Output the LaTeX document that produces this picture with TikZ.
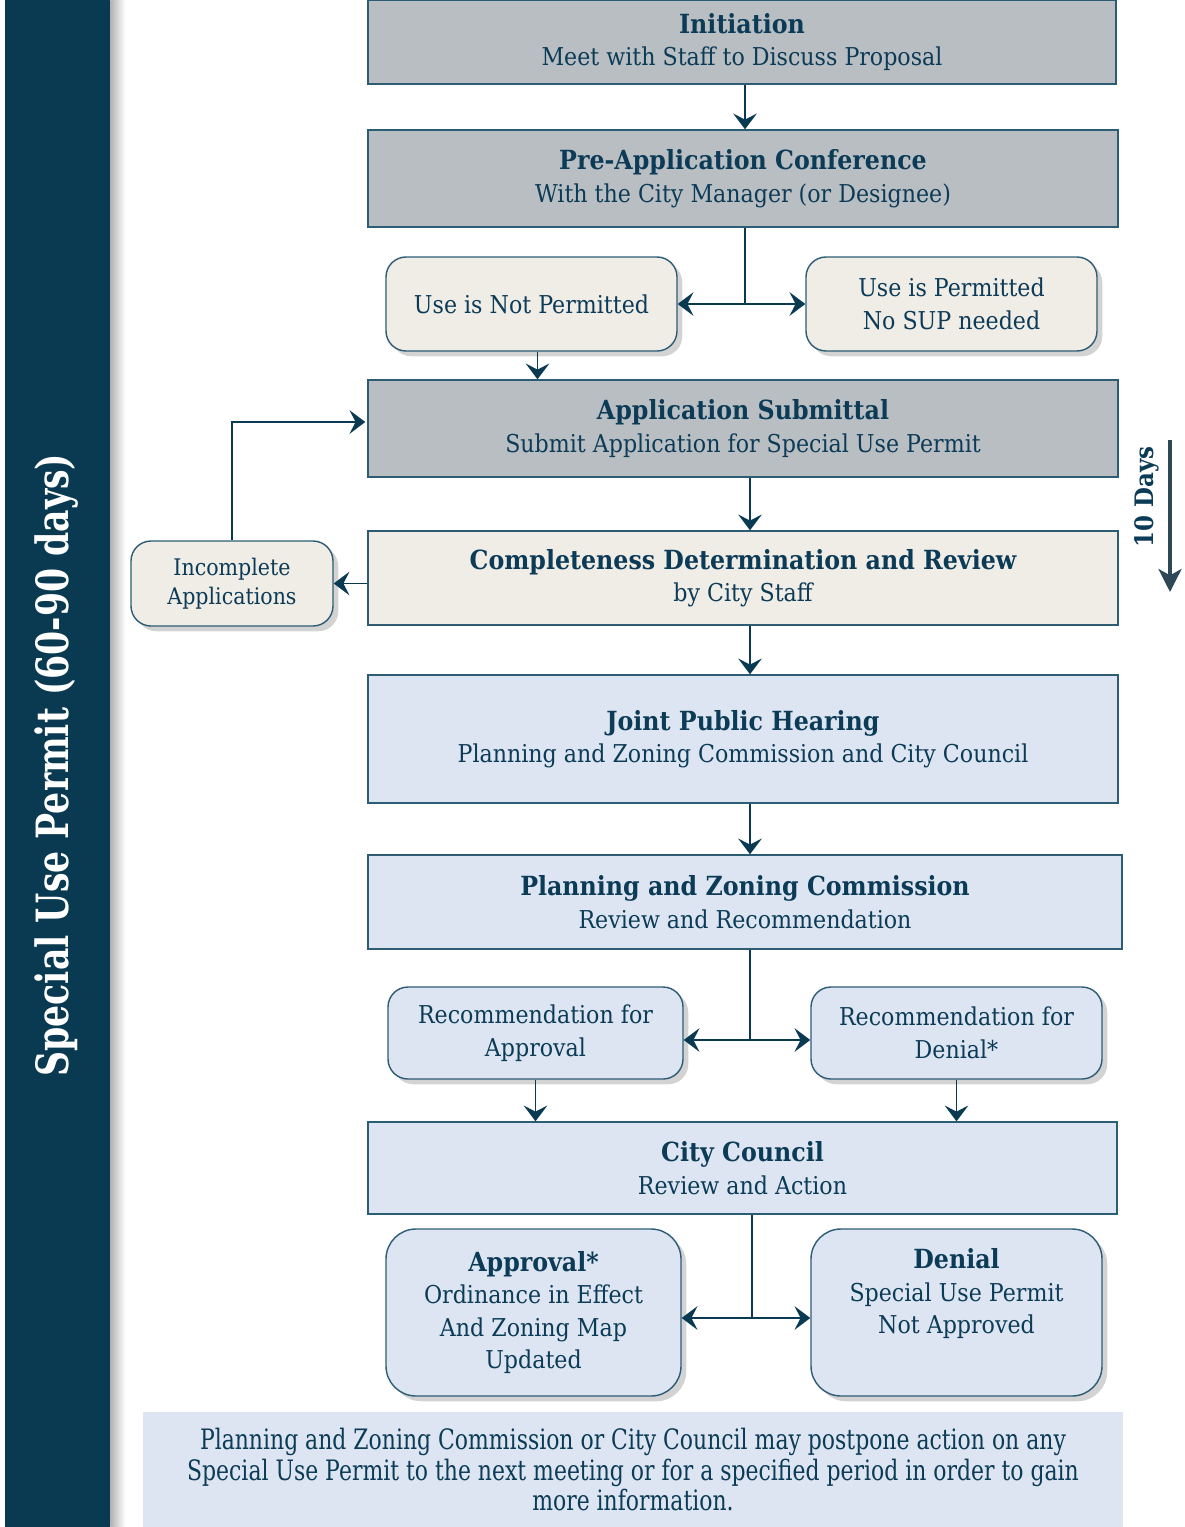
\documentclass[tikz,border=0pt]{standalone}
\usepackage{fontspec}
\setmainfont{DejaVu Serif}[FakeStretch=0.9]
\newfontfamily\narrowfont{DejaVu Serif}[FakeStretch=0.78]
\usetikzlibrary{arrows.meta,shadows,calc}
\definecolor{supnavy}{HTML}{0A3A52}
\definecolor{suptext}{HTML}{0C3B57}
\definecolor{supline}{HTML}{2D5C75}
\definecolor{supgray}{HTML}{B9BEC2}
\definecolor{supbeige}{HTML}{F0ECE6}
\definecolor{supblue}{HTML}{DCE5F1}
\definecolor{supdays}{HTML}{2F4858}
\newcommand{\ttl}[1]{{\fontsize{15}{18.5}\selectfont\bfseries #1}}

\begin{document}
\begin{tikzpicture}
  \tikzset{every node/.style={text=suptext,font=\fontsize{14}{18.5}\selectfont,align=center}}
  \tikzset{stage/.style={draw=supline,line width=0.8pt,minimum width=15cm,minimum height=1.9cm,inner sep=0pt}}
  \tikzset{outcome/.style={draw=supline,line width=0.8pt,rounded corners=0.4cm,minimum width=5.82cm,minimum height=1.88cm,inner sep=0pt,drop shadow={shadow xshift=3pt,shadow yshift=-3pt,opacity=0.35}}}
  \tikzset{arr/.style={draw=supnavy,line width=0.9pt,-{Stealth[length=9pt,width=13.5pt,inset=3.5pt]}}}
  \tikzset{link/.style={draw=supnavy,line width=0.9pt}}

  \useasboundingbox (0,0) rectangle (23.7,-30.54);

  % side bar
  \node[fill=supnavy,minimum width=2.1cm,minimum height=30.54cm,inner sep=0pt] (bar) at (1.15,-15.27) {};
  \shade[left color=black!30,right color=white] (bar.north east) rectangle ($(bar.south east)+(0.3,0)$);
  \node[rotate=90,text=white,font=\narrowfont\fontsize{25.3}{30}\selectfont\bfseries] (bartitle) at (1.14,-15.3) {Special Use Permit (60-90 days)};

  % stages
  \node[stage,fill=supgray,minimum width=14.96cm,minimum height=1.68cm] (init) at (14.84,-0.84) {\ttl{Initiation}\\Meet with Staff to Discuss Proposal};
  \node[stage,fill=supgray,minimum height=1.94cm] (preapp) at (14.86,-3.57) {\ttl{Pre-Application Conference}\\With the City Manager (or Designee)};
  \node[outcome,fill=supbeige] (notperm) at (10.63,-6.08) {Use is Not Permitted};
  \node[outcome,fill=supbeige] (perm) at (19.03,-6.08) {Use is Permitted\\No SUP needed};
  \node[stage,fill=supgray,minimum height=1.94cm] (submit) at (14.86,-8.57) {\ttl{Application Submittal}\\Submit Application for Special Use Permit};
  \node[stage,fill=supbeige,minimum height=1.88cm] (complete) at (14.86,-11.56) {\ttl{Completeness Determination and Review}\\by City Staff};
  \node[outcome,fill=supbeige,minimum width=4.04cm,minimum height=1.70cm,font=\fontsize{13}{16.5}\selectfont] (incomplete) at (4.64,-11.67) {Incomplete\\Applications};
  \node[stage,fill=supblue,minimum height=2.56cm] (hearing) at (14.86,-14.78) {\ttl{Joint Public Hearing}\\Planning and Zoning Commission and City Council};
  \node[stage,fill=supblue,minimum width=15.08cm,minimum height=1.88cm] (pzc) at (14.90,-18.04) {\ttl{Planning and Zoning Commission}\\Review and Recommendation};
  \node[outcome,fill=supblue,minimum width=5.90cm,minimum height=1.84cm] (recapp) at (10.71,-20.66) {Recommendation for\\Approval};
  \node[outcome,fill=supblue,minimum height=1.84cm] (recden) at (19.13,-20.66) {Recommendation for\\Denial*};
  \node[stage,fill=supblue,minimum width=14.98cm,minimum height=1.84cm] (council) at (14.85,-23.36) {\ttl{City Council}\\Review and Action};
  \node[outcome,fill=supblue,rounded corners=0.6cm,minimum width=5.90cm,minimum height=3.34cm] (approval) at (10.67,-26.25) {\ttl{Approval*}\\Ordinance in Effect\\And Zoning Map\\Updated};
  \node[outcome,fill=supblue,rounded corners=0.6cm,minimum height=3.34cm] (denial) at (19.13,-26.25) {\ttl{Denial}\\Special Use Permit\\Not Approved\\\strut};

  % note
  \node[fill=supblue,minimum width=19.6cm,minimum height=2.30cm,inner sep=0pt,font=\narrowfont\fontsize{16}{17.6}\selectfont] (note) at (12.66,-29.39) {Planning and Zoning Commission or City Council may postpone action on any\\Special Use Permit to the next meeting or for a specified period in order to gain\\more information.};

  % connectors
  \coordinate (splitA) at (14.90,-6.08);
  \coordinate (midline) at (15.0,-10.0);
  \draw[arr] (init.south -| splitA) -- (preapp.north -| splitA);
  \draw[link] (preapp.south -| splitA) -- (splitA);
  \draw[arr] (splitA) -- (notperm.east);
  \draw[arr] (splitA) -- (perm.west);
  \draw[arr] ($(notperm.south)+(0.12,0)$) -- ($(notperm.south |- submit.north)+(0.12,0)$);
  \draw[arr] (submit.south -| midline) -- (complete.north -| midline);
  \draw[arr] (complete.west |- incomplete.east) -- (incomplete.east);
  \draw[arr] (incomplete.north) |- ($(submit.west)+(-0.04,0.13)$);
  \draw[arr] (complete.south -| midline) -- (hearing.north -| midline);
  \draw[arr] (hearing.south -| midline) -- (pzc.north -| midline);
  \coordinate (splitB) at (15.0,-20.80);
  \draw[link] (pzc.south -| splitB) -- (splitB);
  \draw[arr] (splitB) -- (splitB -| recapp.east);
  \draw[arr] (splitB) -- (splitB -| recden.west);
  \draw[arr] (recapp.south) -- (recapp.south |- council.north);
  \draw[arr] (recden.south) -- (recden.south |- council.north);
  \coordinate (splitC) at (15.04,-26.36);
  \draw[link] (council.south -| splitC) -- (splitC);
  \draw[arr] (splitC) -- (splitC -| approval.east);
  \draw[arr] (splitC) -- (splitC -| denial.west);

  % ten days
  \coordinate (daysTop) at (23.40,-8.80);
  \coordinate (daysEnd) at (23.40,-11.84);
  \draw[supdays,line width=2.8pt,-{Stealth[length=13pt,width=13pt,inset=3.5pt]}] (daysTop) -- (daysEnd);
  \node[rotate=90,font=\fontsize{14.5}{16}\selectfont\bfseries] (days) at (22.94,-9.94) {10 Days};
\end{tikzpicture}
\end{document}
